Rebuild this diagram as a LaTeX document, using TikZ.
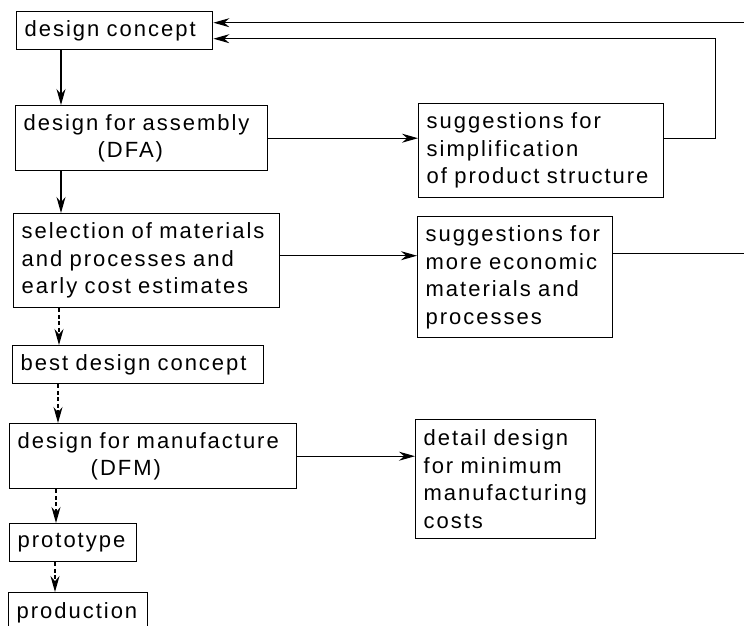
\documentclass[tikz,border=0pt]{standalone}
\usepackage{fontspec}
\newfontfamily\stagefont{Liberation Sans}[LetterSpace=9]
\usetikzlibrary{arrows.meta}

\tikzset{
  stage/.style={draw, line width=1.4pt, anchor=north west, align=left,
    inner xsep=8pt, inner ysep=0pt, font=\stagefont\fontsize{22}{27.5}\selectfont},
  flow/.style={line width=1.2pt, -{Stealth[length=16pt,width=9pt]}},
  trial/.style={flow, dash pattern=on 4pt off 2.5pt}
}

\begin{document}
\begin{tikzpicture}[x=1pt, y=-1pt]
  \useasboundingbox (0,0) rectangle (744,625);
  % main sequence
  \node[stage, text width=180pt, minimum height=38pt] (concept) at (16,11) {design concept};
  \node[stage, text width=236pt, minimum height=65pt] (dfa) at (15,105) {design for assembly\\\hspace*{74pt}(DFA)};
  \node[stage, text width=250pt, minimum height=94pt] (select) at (13,213) {selection of materials\\and processes and\\early cost estimates};
  \node[stage, text width=235pt, minimum height=38pt] (best) at (12,345) {best design concept};
  \node[stage, text width=271pt, minimum height=65pt] (dfm) at (9,423) {design for manufacture\\\hspace*{73pt}(DFM)};
  \node[stage, text width=111pt, minimum height=38pt] (proto) at (9,523) {prototype};
  \node[stage, text width=123pt, minimum height=40pt] (prod) at (8,592) {production};
  % side boxes
  \node[stage, text width=229pt, minimum height=94pt] (simpl) at (418,103) {suggestions for\\simplification\\of product structure};
  \node[stage, text width=179pt, minimum height=121pt] (econ) at (417,216) {suggestions for\\more economic\\materials and\\processes};
  \node[stage, text width=164pt, minimum height=119pt] (detail) at (415,419) {detail design\\for minimum\\manufacturing\\costs};

  % downward flow
  \draw[flow] ([xshift=45pt]concept.south west) -- ([xshift=46pt]dfa.north west);
  \draw[flow] ([xshift=46pt]dfa.south west) -- ([xshift=48pt]select.north west);
  \draw[trial] ([xshift=46pt]select.south west) -- ([xshift=47pt]best.north west);
  \draw[trial] ([xshift=46pt]best.south west) -- ([xshift=49pt]dfm.north west);
  \draw[trial] ([xshift=47pt]dfm.south west) -- ([xshift=47pt]proto.north west);
  \draw[trial] ([xshift=46pt]proto.south west) -- ([xshift=47pt]prod.north west);

  % side branches
  \draw[flow] (dfa.east) -- (dfa.east -| simpl.west);
  \draw[flow] ([yshift=5pt]select.east) -- ([yshift=5pt]select.east -| econ.west);
  \draw[flow] (dfm.east) -- (dfm.east -| detail.west);

  % feedback to the concept
  \draw[flow] (simpl.east |- dfa.east) -- ++(51,0) |- ([yshift=-8pt]concept.east);
  \draw[flow] ([yshift=23.5pt]econ.east) -- ++(148,0) |- ([yshift=8pt]concept.east);
\end{tikzpicture}
\end{document}
